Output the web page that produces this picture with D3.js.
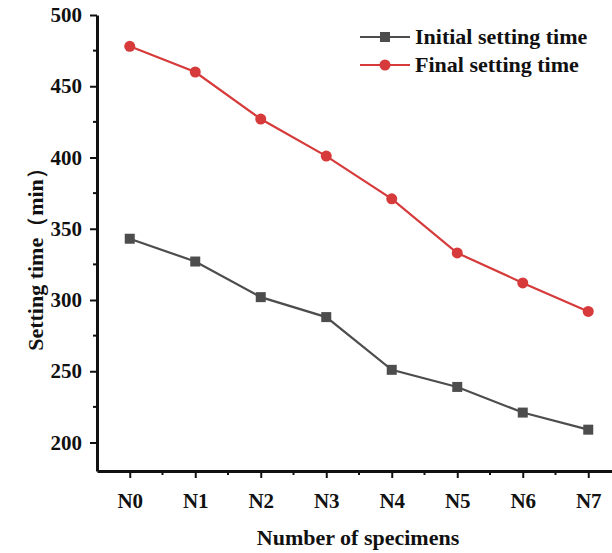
<!DOCTYPE html>
<html>
<head>
<meta charset="utf-8">
<script src="https://cdn.jsdelivr.net/npm/d3@7"></script>
<style>
	body { margin: 0; background: #fff; }
	svg text { font-family: "Liberation Serif", "DejaVu Serif", serif; font-weight: bold; fill: #111; }
</style>
</head>
<body>
<div id="chart"></div>
<script>
'use strict';

// values
const specimens = ["N0", "N1", "N2", "N3", "N4", "N5", "N6", "N7"];
const initialTime = [343, 327, 302, 288, 251, 239, 221, 209];
const finalTime = [478, 460, 427, 401, 371, 333, 312, 292];
const yTicks = [200, 250, 300, 350, 400, 450, 500];
const yMinorTicks = [225, 275, 325, 375, 425, 475];

const width = 612, height = 553;

const svg = d3.select("#chart")
	.append("svg")
		.attr("width", width)
		.attr("height", height);

const xScale = d3.scalePoint()
	.domain(specimens)
	.range([97, 97 + 8 * 65.5])
	.padding(0.5);

const yScale = d3.scaleLinear()
	.domain([180, 500])
	.range([471, 15]);

// minor ticks
const xMinor = specimens.slice(0, -1).map((d, i) => (xScale(d) + xScale(specimens[i + 1])) / 2);

svg.append("g")
	.selectAll("line")
	.data(xMinor)
	.join("line")
		.attr("x1", d => d).attr("x2", d => d)
		.attr("y1", 471).attr("y2", 475)
		.attr("stroke", "#111").attr("stroke-width", 2);

svg.append("g")
	.selectAll("line")
	.data(yMinorTicks)
	.join("line")
		.attr("x1", 93).attr("x2", 97)
		.attr("y1", d => yScale(d)).attr("y2", d => yScale(d))
		.attr("stroke", "#111").attr("stroke-width", 2);

// axes
const xAxis = svg.append("g")
	.attr("transform", "translate(0,471)")
	.call(d3.axisBottom(xScale).tickSize(7).tickPadding(15).tickSizeOuter(0));

const yAxis = svg.append("g")
	.attr("transform", "translate(97,0)")
	.call(d3.axisLeft(yScale).tickValues(yTicks).tickSize(7).tickPadding(8).tickSizeOuter(0));

[xAxis, yAxis].forEach(a => {
	a.select(".domain").attr("stroke", "#111").attr("stroke-width", 3);
	a.selectAll(".tick line").attr("stroke", "#111").attr("stroke-width", 2);
	a.selectAll(".tick text")
		.style("font-family", "'Liberation Serif', serif")
		.style("font-weight", "bold")
		.style("font-size", "21px")
		.attr("fill", "#222");
});

// lines
const series = [
	{ name: "Initial setting time", values: initialTime, color: "#4d4d4d", marker: "square" },
	{ name: "Final setting time", values: finalTime, color: "#d63a3a", marker: "circle" }
];

const lineGenerator = d3.line()
	.x((d, i) => xScale(specimens[i]))
	.y(d => yScale(d));

function drawMarker(g, s, x, y) {
	if (s.marker === "square") {
		g.append("rect")
			.attr("x", x - 5).attr("y", y - 5)
			.attr("width", 10).attr("height", 10)
			.attr("fill", s.color);
	} else {
		g.append("circle")
			.attr("cx", x).attr("cy", y).attr("r", 5.5)
			.attr("fill", s.color);
	}
}

series.forEach(s => {
	svg.append("path")
		.datum(s.values)
		.attr("d", lineGenerator)
		.attr("fill", "none")
		.attr("stroke", s.color)
		.attr("stroke-width", 2.2);
	const g = svg.append("g");
	s.values.forEach((v, i) => drawMarker(g, s, xScale(specimens[i]), yScale(v)));
});

// legend
series.forEach((s, i) => {
	const y = 37 + i * 28;
	const g = svg.append("g");
	g.append("line")
		.attr("x1", 360).attr("x2", 410)
		.attr("y1", y).attr("y2", y)
		.attr("stroke", s.color).attr("stroke-width", 2.2);
	drawMarker(g, s, 385, y);
	g.append("text")
		.attr("x", 415).attr("y", y + 7)
		.style("font-size", "22px")
		.text(s.name);
});

// axis titles
svg.append("text")
	.attr("x", 358).attr("y", 545)
	.attr("text-anchor", "middle")
	.style("font-size", "22px")
	.text("Number of specimens");

svg.append("text")
	.attr("transform", "translate(43,254) rotate(-90)")
	.attr("text-anchor", "middle")
	.style("font-size", "22px")
	.text("Setting time（min）");
</script>
</body>
</html>
